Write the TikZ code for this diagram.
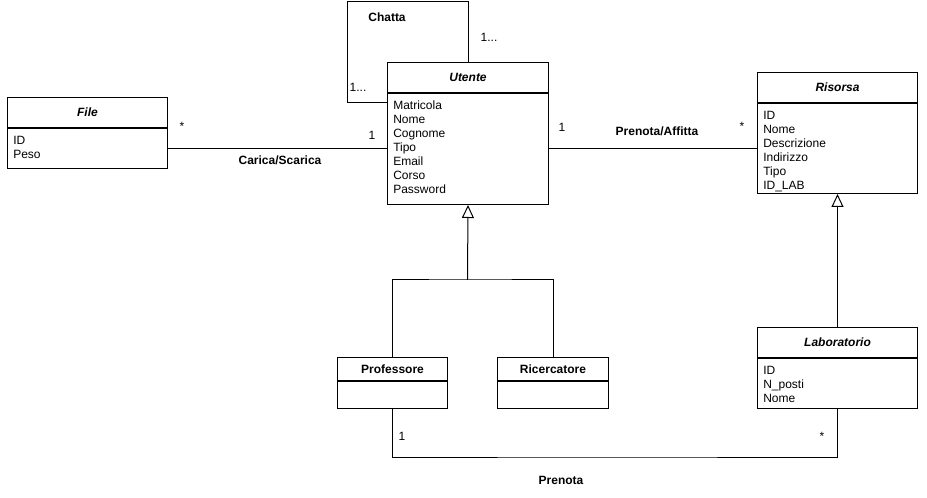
\documentclass[tikz,border=0pt]{standalone}
\usepackage{fontspec}
\setmainfont{Liberation Sans}
\usetikzlibrary{arrows.meta}
\begin{document}
\begin{tikzpicture}[x=0.75pt,y=-0.75pt,
  font=\fontsize{9}{10.5}\selectfont,
  box/.style={draw, line width=0.75pt, inner sep=0pt, anchor=north west},
  title/.style={font=\fontsize{9}{10.5}\selectfont\bfseries\itshape},
  ptitle/.style={font=\fontsize{9}{10.5}\selectfont\bfseries},
  attrs/.style={inner sep=0pt, anchor=north west, align=left},
  lbl/.style={inner sep=0pt, font=\fontsize{9}{10.5}\selectfont\bfseries},
  mult/.style={inner sep=0pt},
  conn/.style={draw, line width=0.75pt},
  gen/.style={draw, line width=0.75pt, -{Triangle[open, length=9.75pt, width=9pt]}}]
\useasboundingbox (0,0) rectangle (927,498);

% Utente
\node[box, title, minimum width=120.75pt, minimum height=22.5pt] (utH) at (387,62) {Utente};
\node[box, minimum width=120.75pt, minimum height=83.25pt] (utB) at (utH.south west) {};
\node[attrs] (utA) at ([xshift=4.5pt, yshift=-6pt]utB.north west) {Matricola\\Nome\\Cognome\\Tipo\\Email\\Corso\\Password};

% File
\node[box, title, minimum width=120pt, minimum height=22.5pt] (fiH) at (7,97) {File};
\node[box, minimum width=120pt, minimum height=30pt] (fiB) at (fiH.south west) {};
\node[attrs] (fiA) at ([xshift=4.5pt, yshift=-6pt]fiB.north west) {ID\\Peso};

% Risorsa
\node[box, title, minimum width=120pt, minimum height=22.5pt] (riH) at (757,72) {Risorsa};
\node[box, minimum width=120pt, minimum height=67.5pt] (riB) at (riH.south west) {};
\node[attrs] (riA) at ([xshift=4.5pt, yshift=-6pt]riB.north west) {ID\\Nome\\Descrizione\\Indirizzo\\Tipo\\ID\_LAB};

% Professore
\node[box, ptitle, minimum width=82.5pt, minimum height=17.25pt] (prH) at (337,357) {Professore};
\node[box, minimum width=82.5pt, minimum height=20.25pt] (prB) at (prH.south west) {};

% Ricercatore
\node[box, ptitle, minimum width=83.25pt, minimum height=17.25pt] (rcH) at (497,357) {Ricercatore};
\node[box, minimum width=83.25pt, minimum height=20.25pt] (rcB) at (rcH.south west) {};

% Laboratorio
\node[box, title, minimum width=120pt, minimum height=22.5pt] (laH) at (757,327) {Laboratorio};
\node[box, minimum width=120pt, minimum height=37.5pt] (laB) at (laH.south west) {};
\node[attrs] (laA) at ([xshift=4.5pt, yshift=-6pt]laB.north west) {ID\\N\_posti\\Nome};

% Chatta self loop
\coordinate (chatC) at (347,2);
\draw[conn] (utH.north) |- (chatC) |- ([yshift=-7.5pt]utB.north west);
\node[lbl] (chatL) at (387,17) {Chatta};
\node[mult] (chatM1) at (489,37) {1...};
\node[mult] (chatM2) at (358,87) {1...};

% Carica/Scarica
\draw[conn] (fiB.east) -- (utB.west |- fiB.east);
\node[mult] (caM1) at (182,126) {*};
\node[mult] (caM2) at (372,135) {1};
\node[lbl] (caL) at (280,160) {Carica/Scarica};

% Prenota/Affitta
\draw[conn] (utB.east |- riB.west) -- (riB.west);
\node[mult] (paM1) at (562,127) {1};
\node[lbl] (paL) at (657,131) {Prenota/Affitta};
\node[mult] (paM2) at (742,126) {*};

% Generalization Utente
\coordinate (gU) at (467.5,280);
\draw[conn] (prH.north) |- (gU) -| (rcH.north);
\draw[gen] (gU) -- (utB.south);

% Generalization Risorsa
\draw[gen] (laH.north) -- (riB.south);

% Prenota
\coordinate (pC) at (600,457);
\draw[conn] (prB.south) |- (pC) -| (laB.south);
\node[mult] (prM1) at (402,436) {1};
\node[mult] (prM2) at (822,436) {*};
\node[lbl] (prL) at (561,480) {Prenota};
\end{tikzpicture}
\end{document}
